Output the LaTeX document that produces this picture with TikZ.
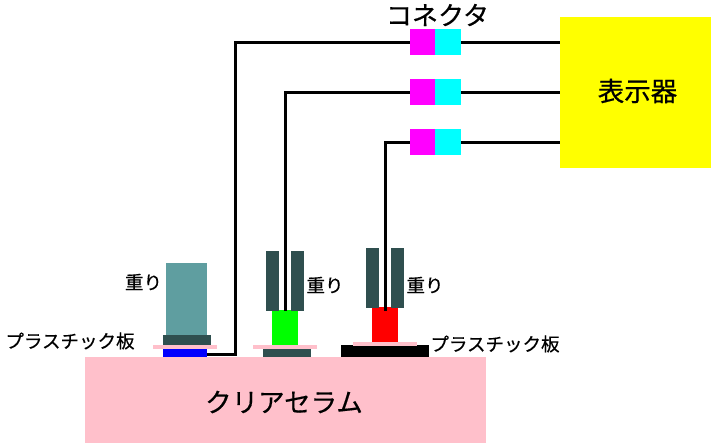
\documentclass[tikz,border=0pt]{standalone}
\usepackage{fontspec}
\newfontfamily\cjk[FakeBold=0.5]{Noto Sans CJK JP}
\usetikzlibrary{positioning}
\tikzset{
    block/.style n args = {3}{fill=#1, minimum width=#2pt, minimum height=#3pt},
    wire/.style = {line width=3pt, line join=miter},
    label/.style = {font=\cjk\fontsize{#1pt}{#1pt}\selectfont},
}
\definecolor{serumpink}{RGB}{255,192,203}
\definecolor{weightdark}{RGB}{47,79,79}
\definecolor{weightpale}{RGB}{95,158,160}
\definecolor{displayyellow}{RGB}{255,255,0}
\definecolor{plugmagenta}{RGB}{255,0,255}
\definecolor{jackcyan}{RGB}{0,255,255}
\definecolor{sensorblue}{RGB}{0,0,255}
\definecolor{sensorgreen}{RGB}{0,255,0}
\definecolor{sensorred}{RGB}{255,0,0}

\begin{document}
\begin{tikzpicture}[x=1pt, y=-1pt, every node/.style = {inner sep=0pt, outer sep=0pt}]
    \useasboundingbox (0, 0) rectangle (711, 445);
    % serum and display
    \node (serum) [block={serumpink}{401}{86}] at (285.5, 400) {};
    \node (display) [block={displayyellow}{151}{151}] at (635.5, 92.5) {};
    % connectors
    \node (plugA) [block={plugmagenta}{25}{26}] at (422.5, 42) {};
    \node (jackA) [block={jackcyan}{26}{26}, right = 0pt of plugA] {};
    \node (plugB) [block={plugmagenta}{25}{26}] at (422.5, 92) {};
    \node (jackB) [block={jackcyan}{26}{26}, right = 0pt of plugB] {};
    \node (plugC) [block={plugmagenta}{25}{26}] at (422.5, 142) {};
    \node (jackC) [block={jackcyan}{26}{26}, right = 0pt of plugC] {};
    % left stack
    \node (sensorA) [block={sensorblue}{44}{8}] at (185, 353) {};
    \node (plateA) [block={serumpink}{64}{4}] at (185, 347) {};
    \node (baseA) [block={weightdark}{48}{10}] at (187, 340) {};
    \node (weightA) [block={weightpale}{41}{72}] at (186.5, 299) {};
    % middle stack
    \node (footB) [block={weightdark}{48}{8}] at (287, 353) {};
    \node (plateB) [block={serumpink}{64}{4}] at (285, 347) {};
    \node (sensorB) [block={sensorgreen}{26}{35}, above = 0pt of plateB] {};
    \node (weightBl) [block={weightdark}{13}{60}] at (272.5, 281) {};
    \node (weightBr) [block={weightdark}{13}{60}] at (297.5, 281) {};
    % right stack
    \node (footC) [block={black}{88}{12}] at (385, 351) {};
    \node (plateC) [block={serumpink}{64}{4}] at (385, 344) {};
    \node (sensorC) [block={sensorred}{26}{35}, above = 0pt of plateC] {};
    \node (weightCl) [block={weightdark}{13}{60}] at (372.5, 278) {};
    \node (weightCr) [block={weightdark}{13}{60}] at (397.5, 278) {};
    % wires
    \draw[wire] ([yshift=-1.5pt]sensorA.east) -| (235.7, 42.5) -- ([yshift=-0.5pt]plugA.west);
    \draw[wire] ([yshift=-1pt]sensorB.north) ++(0.5, 0) |- ([yshift=-0.5pt]plugB.west);
    \draw[wire] ([yshift=-4pt]sensorC.north) ++(0.5, 0) |- ([yshift=-0.5pt]plugC.west);
    \draw[wire] ([yshift=-0.5pt]jackA.east) -- ([yshift=-0.5pt]jackA.east -| display.west);
    \draw[wire] ([yshift=-0.5pt]jackB.east) -- ([yshift=-0.5pt]jackB.east -| display.west);
    \draw[wire] ([yshift=-0.5pt]jackC.east) -- ([yshift=-0.5pt]jackC.east -| display.west);
    % labels
    \node (connlabel) [label=26] at (437.5, 15) {コネクタ};
    \node (displabel) [label=26.5] at (637.5, 91) {表示器};
    \node (serumlabel) [label=26.5] at (284, 402) {クリアセラム};
    \node (heavyA) [label=18.5] at (143.5, 282) {重り};
    \node (heavyB) [label=18.5] at (325, 285) {重り};
    \node (heavyC) [label=18.5] at (425, 285) {重り};
    \node (plasticA) [label=18.5] at (70, 341) {プラスチック板};
    \node (plasticC) [label=18.5] at (495, 344) {プラスチック板};
\end{tikzpicture}
\end{document}
